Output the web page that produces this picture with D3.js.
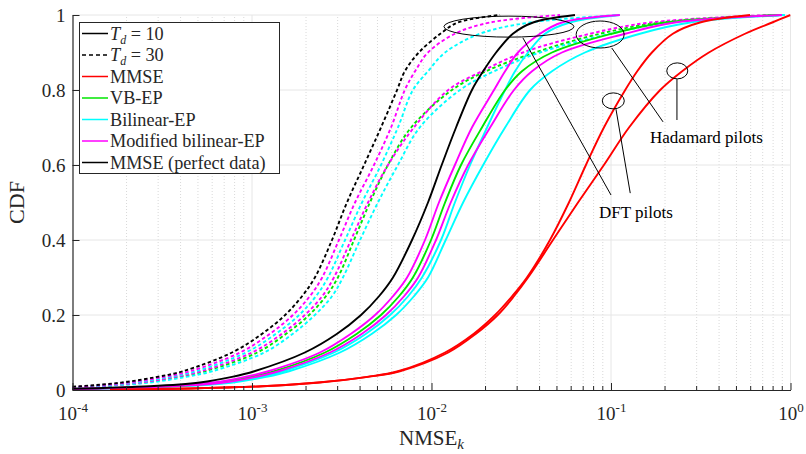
<!DOCTYPE html>
<html>
<head>
<meta charset="utf-8">
<script src="https://cdn.jsdelivr.net/npm/d3@7"></script>
<style>
  body { margin: 0; background: #fff; }
  svg text { font-family: 'Liberation Serif', 'Times New Roman', serif; fill: #262626; }
</style>
</head>
<body>
<svg id="chart" width="806" height="454"></svg>
<script>
// CDF levels shared by every curve, NMSE at each level
const cdfLevels = [0, 0.01, 0.02, 0.035, 0.05, 0.1, 0.15, 0.2, 0.25, 0.3, 0.4, 0.5, 0.6, 0.7, 0.8, 0.85, 0.9, 0.95, 0.98, 1];

// T_d = 10 (solid)
const mmseDft = [1.62e-4, 1.14e-3, 2.33e-3, 4.37e-3, 6.5e-3, 1.19e-2, 1.72e-2, 2.26e-2, 2.81e-2, 3.40e-2, 4.57e-2, 5.83e-2, 7.25e-2, 9.13e-2, 0.120, 0.140, 0.169, 0.221, 0.313, 0.595];
const mmseHad = [1.62e-4, 1.14e-3, 2.39e-3, 4.43e-3, 6.67e-3, 1.24e-2, 1.77e-2, 2.34e-2, 2.88e-2, 3.45e-2, 4.75e-2, 6.55e-2, 9.13e-2, 0.126, 0.188, 0.249, 0.351, 0.558, 0.79, 1.0];
const vbepHad10 = [5e-5, 3.40e-4, 6.55e-4, 9.87e-4, 1.33e-3, 2.55e-3, 3.84e-3, 5.23e-3, 6.59e-3, 7.88e-3, 9.94e-3, 1.19e-2, 1.46e-2, 1.91e-2, 2.57e-2, 3.19e-2, 4.69e-2, 0.101, 0.200, 0.874];
const bilinDft10 = [5e-5, 3.77e-4, 7.36e-4, 1.11e-3, 1.49e-3, 2.86e-3, 4.32e-3, 5.88e-3, 7.41e-3, 8.85e-3, 1.13e-2, 1.35e-2, 1.64e-2, 2.04e-2, 2.57e-2, 2.92e-2, 3.45e-2, 4.29e-2, 5.9e-2, 0.112];
const bilinHad10 = [5e-5, 3.97e-4, 7.84e-4, 1.20e-3, 1.61e-3, 3.09e-3, 4.66e-3, 6.35e-3, 7.98e-3, 9.56e-3, 1.20e-2, 1.50e-2, 1.94e-2, 2.57e-2, 3.54e-2, 4.69e-2, 7.16e-2, 0.145, 0.276, 0.93];
const modDft10 = [5e-5, 3.15e-4, 6.07e-4, 9.13e-4, 1.23e-3, 2.39e-3, 3.56e-3, 4.85e-3, 6.10e-3, 7.31e-3, 9.2e-3, 1.10e-2, 1.35e-2, 1.68e-2, 2.23e-2, 2.57e-2, 3.03e-2, 4.02e-2, 5.33e-2, 0.112];
const modHad10 = [5e-5, 3.59e-4, 6.99e-4, 1.05e-3, 1.41e-3, 2.72e-3, 4.10e-3, 5.58e-3, 7.03e-3, 8.42e-3, 1.06e-2, 1.28e-2, 1.60e-2, 2.12e-2, 2.88e-2, 3.63e-2, 5.33e-2, 0.120, 0.227, 0.896];
const perfect10 = [5e-5, 2.70e-4, 5.13e-4, 7.74e-4, 1.03e-3, 1.97e-3, 2.98e-3, 4.05e-3, 5.10e-3, 6.10e-3, 7.79e-3, 9.56e-3, 1.14e-2, 1.37e-2, 1.68e-2, 1.94e-2, 2.29e-2, 2.84e-2, 3.68e-2, 6.3e-2];

// T_d = 30 (dashed)
const vbepHad30 = [5e-5, 1.39e-4, 2.50e-4, 3.92e-4, 5.47e-4, 1.07e-3, 1.55e-3, 2.08e-3, 2.58e-3, 3.01e-3, 3.70e-3, 4.54e-3, 5.72e-3, 7.70e-3, 1.30e-2, 2.01e-2, 3.77e-2, 8.69e-2, 0.188, 0.82];
const bilinDft30 = [5e-5, 1.25e-4, 2.20e-4, 3.49e-4, 4.87e-4, 9.26e-4, 1.36e-3, 1.83e-3, 2.27e-3, 2.65e-3, 3.30e-3, 4.10e-3, 5.23e-3, 6.5e-3, 7.88e-3, 9.56e-3, 1.19e-2, 1.86e-2, 3.54e-2, 0.112];
const bilinHad30 = [5e-5, 1.48e-4, 2.70e-4, 4.29e-4, 6.0e-4, 1.17e-3, 1.69e-3, 2.24e-3, 2.79e-3, 3.21e-3, 4.0e-3, 5.03e-3, 6.5e-3, 8.6e-3, 1.44e-2, 2.23e-2, 4.02e-2, 9.87e-2, 0.213, 0.93];
const modDft30 = [5e-5, 1.17e-4, 2.04e-4, 3.23e-4, 4.51e-4, 8.58e-4, 1.26e-3, 1.69e-3, 2.10e-3, 2.46e-3, 3.05e-3, 3.75e-3, 4.78e-3, 5.95e-3, 7.1e-3, 8.1e-3, 9.56e-3, 1.35e-2, 2.12e-2, 5.2e-2];
const modHad30 = [5e-5, 1.33e-4, 2.38e-4, 3.72e-4, 5.2e-4, 1.0e-3, 1.47e-3, 1.97e-3, 2.46e-3, 2.86e-3, 3.56e-3, 4.43e-3, 5.72e-3, 7.98e-3, 1.24e-2, 1.91e-2, 3.23e-2, 7.64e-2, 0.165, 0.77];
const perfect30 = [5e-5, 1.10e-4, 1.89e-4, 2.96e-4, 4.12e-4, 7.74e-4, 1.14e-3, 1.53e-3, 1.90e-3, 2.24e-3, 2.79e-3, 3.38e-3, 4.21e-3, 5.23e-3, 6.43e-3, 7.1e-3, 8.5e-3, 1.12e-2, 1.40e-2, 2.41e-2];

// axis ticks
const xTicks = [1e-4, 1e-3, 1e-2, 1e-1, 1];
const xTickExp = ['-4', '-3', '-2', '-1', '0'];
const yTicks = [0, 0.2, 0.4, 0.6, 0.8, 1];
const yTickLabels = ['0', '0.2', '0.4', '0.6', '0.8', '1'];

const legendLabels = ['T_d = 10', 'T_d = 30', 'MMSE', 'VB-EP', 'Bilinear-EP', 'Modified bilinear-EP', 'MMSE (perfect data)'];

const RED = '#ff0000', GREEN = '#00e600', CYAN = '#00ffff', MAGENTA = '#ff00ff', BLACK = '#000000';
const DASH = '3.5,2.5';

const series = [
  { values: vbepHad30, color: GREEN, dash: DASH },
  { values: bilinHad30, color: CYAN, dash: DASH },
  { values: modHad30, color: MAGENTA, dash: DASH },
  { values: bilinDft30, color: CYAN, dash: DASH },
  { values: modDft30, color: MAGENTA, dash: DASH },
  { values: perfect30, color: BLACK, dash: DASH },
  { values: bilinHad10, color: CYAN, dash: null },
  { values: bilinDft10, color: CYAN, dash: null },
  { values: vbepHad10, color: GREEN, dash: null },
  { values: modHad10, color: MAGENTA, dash: null },
  { values: modDft10, color: MAGENTA, dash: null },
  { values: perfect10, color: BLACK, dash: null },
  { values: mmseHad, color: RED, dash: null },
  { values: mmseDft, color: RED, dash: null },
];

const svg = d3.select('#chart');

const x = d3.scaleLog().domain([1e-4, 1]).range([72.5, 790.5]);
const y = d3.scaleLinear().domain([0, 1]).range([390, 15]);

// grid
const minorTicks = d3.range(-4, 0).flatMap((e) => d3.range(2, 10).map((k) => k * Math.pow(10, e)));
const grid = svg.append('g');
grid.selectAll('.minor')
  .data(minorTicks)
  .join('line')
  .attr('x1', (d) => x(d)).attr('x2', (d) => x(d))
  .attr('y1', y(0)).attr('y2', y(1))
  .attr('stroke', '#d9d9d9')
  .attr('stroke-width', 1)
  .attr('stroke-dasharray', '1,2');
grid.selectAll('.majorx')
  .data(xTicks.slice(1))
  .join('line')
  .attr('x1', (d) => x(d)).attr('x2', (d) => x(d))
  .attr('y1', y(0)).attr('y2', y(1))
  .attr('stroke', '#e6e6e6');
grid.selectAll('.majory')
  .data(yTicks.slice(1))
  .join('line')
  .attr('x1', x(1e-4)).attr('x2', x(1))
  .attr('y1', (d) => y(d)).attr('y2', (d) => y(d))
  .attr('stroke', '#e6e6e6');

// curves
svg.append('clipPath').attr('id', 'plot-clip')
  .append('rect')
  .attr('x', x(1e-4)).attr('y', y(1) - 2)
  .attr('width', x(1) - x(1e-4)).attr('height', y(0) - y(1) + 2);

const line = d3.line()
  .x((d) => x(d[0]))
  .y((d) => y(d[1]))
  .curve(d3.curveCatmullRom.alpha(0.5));

const curves = svg.append('g').attr('clip-path', 'url(#plot-clip)');
series.forEach((s) => {
  curves.append('path')
    .datum(s.values.map((v, i) => [v, cdfLevels[i]]))
    .attr('d', line)
    .attr('fill', 'none')
    .attr('stroke', s.color)
    .attr('stroke-width', 1.9)
    .attr('stroke-dasharray', s.dash);
});

// axes
const xAxis = svg.append('g')
  .attr('transform', `translate(0,${y(0)})`)
  .call(d3.axisBottom(x).tickValues(xTicks).tickSize(-7).tickSizeOuter(0).tickPadding(17));
xAxis.selectAll('.tick text').each(function (d, i) {
  const t = d3.select(this).text(null).attr('font-size', 19);
  t.append('tspan').text('10');
  t.append('tspan').attr('dy', -8).attr('font-size', 13).text(xTickExp[i]);
});
xAxis.selectAll('.minor-tick')
  .data(minorTicks)
  .join('line')
  .attr('x1', (d) => x(d)).attr('x2', (d) => x(d))
  .attr('y1', 0).attr('y2', -4)
  .attr('stroke', '#262626');

const yAxis = svg.append('g')
  .attr('transform', `translate(${x(1e-4)},0)`)
  .call(d3.axisLeft(y).tickValues(yTicks).tickSize(-7).tickSizeOuter(0).tickPadding(7)
    .tickFormat((d, i) => yTickLabels[i]));
yAxis.selectAll('.tick text').attr('font-size', 19);

[xAxis, yAxis].forEach((g) => {
  g.attr('font-family', null).attr('font-size', null).attr('color', '#262626');
  g.select('.domain').attr('stroke-width', 1.2);
});

// axis titles
svg.append('text')
  .attr('transform', `translate(24,${(y(0) + y(1)) / 2}) rotate(-90)`)
  .attr('text-anchor', 'middle')
  .attr('font-size', 22)
  .text('CDF');
const xTitle = svg.append('text')
  .attr('x', (x(1e-4) + x(1)) / 2)
  .attr('y', 445)
  .attr('text-anchor', 'middle')
  .attr('font-size', 21);
xTitle.append('tspan').text('NMSE');
xTitle.append('tspan').attr('dy', 4).attr('font-size', 15).attr('font-style', 'italic').text('k');

// annotations (positions in data units, sizes in px)
const ellipses = [
  { cx: 2.7e-2, cy: 0.969, rx: 65, ry: 10.5 },
  { cx: 8.7e-2, cy: 0.948, rx: 24, ry: 13.5 },
  { cx: 0.103, cy: 0.771, rx: 11, ry: 8 },
  { cx: 0.234, cy: 0.851, rx: 10.5, ry: 8 },
];
const leaders = [
  [3.23e-2, 0.939, 0.1, 0.52],
  [0.1066, 0.749, 0.128, 0.525],
  [0.101, 0.912, 0.195, 0.715],
  [0.233, 0.829, 0.233, 0.72],
];
const notes = [
  { x: 8.58e-2, cdf: 0.459, label: 'DFT pilots' },
  { x: 0.165, cdf: 0.659, label: 'Hadamard pilots' },
];

const ann = svg.append('g');
ann.selectAll('ellipse')
  .data(ellipses)
  .join('ellipse')
  .attr('cx', (d) => x(d.cx)).attr('cy', (d) => y(d.cy))
  .attr('rx', (d) => d.rx).attr('ry', (d) => d.ry)
  .attr('fill', 'none').attr('stroke', '#000').attr('stroke-width', 1);
ann.selectAll('line')
  .data(leaders)
  .join('line')
  .attr('x1', (d) => x(d[0])).attr('y1', (d) => y(d[1]))
  .attr('x2', (d) => x(d[2])).attr('y2', (d) => y(d[3]))
  .attr('stroke', '#000').attr('stroke-width', 1);
ann.selectAll('text')
  .data(notes)
  .join('text')
  .attr('x', (d) => x(d.x)).attr('y', (d) => y(d.cdf))
  .attr('font-size', 17)
  .style('fill', '#000')
  .text((d) => d.label);

// legend
const legendColors = [BLACK, BLACK, RED, GREEN, CYAN, MAGENTA, BLACK];
const legendDash = [null, '4,3', null, null, null, null, null];
const legend = svg.append('g');
legend.append('rect')
  .attr('x', 79.5).attr('y', 22.5)
  .attr('width', 200).attr('height', 151)
  .attr('fill', '#fff').attr('stroke', '#262626').attr('stroke-width', 1);

legendLabels.forEach((label, i) => {
  const ly = 33.5 + i * 21.5;
  legend.append('line')
    .attr('x1', 82).attr('x2', 108)
    .attr('y1', ly).attr('y2', ly)
    .attr('stroke', legendColors[i])
    .attr('stroke-width', 1.5)
    .attr('stroke-dasharray', legendDash[i]);
  const t = legend.append('text')
    .attr('x', 110).attr('y', ly + 6)
    .attr('font-size', 18.2);
  if (label.startsWith('T_d')) {
    t.append('tspan').attr('font-style', 'italic').text('T');
    t.append('tspan').attr('dy', 4).attr('font-size', 12).attr('font-style', 'italic').text('d');
    t.append('tspan').attr('dy', -4).text(label.slice(3));
  } else {
    t.text(label);
  }
});
</script>
</body>
</html>
